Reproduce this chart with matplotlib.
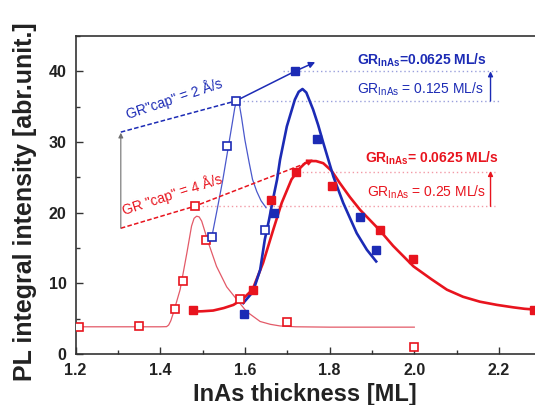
import matplotlib
matplotlib.use("Agg")
import matplotlib.pyplot as plt
from matplotlib.ticker import MultipleLocator

plt.rcParams['font.family'] = ['Liberation Sans', 'DejaVu Sans']
plt.rcParams['mathtext.default'] = 'regular'

# ---------------- data ----------------
# open red squares (GR cap = 4 A/s, GR InAs = 0.25 ML/s)
red_open_x = [1.209, 1.351, 1.435, 1.455, 1.481, 1.507, 1.588, 1.699, 1.999]
red_open_y = [3.87, 4.0, 6.3, 10.3, 20.9, 16.1, 7.8, 4.5, 1.04]
# open blue squares (GR cap = 2 A/s, GR InAs = 0.125 ML/s)
blue_open_x = [1.522, 1.557, 1.578, 1.647]
blue_open_y = [16.6, 29.5, 35.8, 17.6]
# filled blue squares (GR InAs = 0.0625 ML/s)
blue_fill_x = [1.599, 1.669, 1.718, 1.770, 1.872, 1.909]
blue_fill_y = [5.67, 19.96, 40.0, 30.4, 19.4, 14.65]
# filled red squares (GR InAs = 0.0625 ML/s)
red_fill_x = [1.478, 1.618, 1.661, 1.720, 1.806, 1.919, 1.998, 2.282]
red_fill_y = [6.24, 9.08, 21.8, 25.7, 23.8, 17.6, 13.4, 6.24]

# fitted curves
red_thin_x = [1.20, 1.30, 1.40, 1.415, 1.420, 1.425, 1.431, 1.447, 1.463, 1.474,
              1.480, 1.486, 1.492, 1.498, 1.514, 1.533, 1.557, 1.581, 1.604,
              1.636, 1.660, 1.683, 1.72, 1.80, 2.00]
red_thin_y = [3.85, 3.85, 3.85, 3.87, 4.1, 4.7, 5.8, 9.1, 14.3, 18.1,
              19.2, 19.5, 19.4, 18.8, 15.7, 12.4, 9.5, 7.7, 6.0,
              4.6, 4.2, 3.97, 3.85, 3.8, 3.8]
blue_thin_x = [1.522, 1.535, 1.548, 1.560, 1.570, 1.576, 1.581, 1.586, 1.592,
               1.600, 1.610, 1.618, 1.628, 1.638, 1.650]
blue_thin_y = [16.6, 20.6, 24.7, 29.0, 32.6, 34.8, 36.0, 35.6, 33.5,
               30.3, 27.1, 24.7, 23.0, 21.7, 20.7]
blue_thick_x = [1.596, 1.619, 1.636, 1.647, 1.657, 1.666, 1.676, 1.683, 1.699,
                1.718, 1.727, 1.736, 1.745, 1.761, 1.773, 1.785, 1.797, 1.809,
                1.832, 1.864, 1.888, 1.910]
blue_thick_y = [7.2, 8.8, 11.9, 16.2, 19.0, 21.8, 24.7, 27.5, 32.2,
                36.0, 37.1, 37.5, 37.0, 34.6, 32.4, 29.9, 27.5, 25.1,
                21.4, 17.1, 14.75, 13.1]
red_thick_x = [1.478, 1.500, 1.525, 1.550, 1.573, 1.595, 1.618, 1.643, 1.667,
               1.687, 1.710, 1.730, 1.742, 1.754, 1.768, 1.785, 1.805, 1.824,
               1.848, 1.872, 1.917, 1.950, 1.998, 2.040, 2.077, 2.115, 2.155,
               2.195, 2.234, 2.260, 2.282]
red_thick_y = [6.0, 6.05, 6.15, 6.5, 6.95, 7.8, 9.1, 12.9, 17.6,
               21.4, 24.7, 26.3, 27.0, 27.3, 27.3, 27.0, 25.9, 24.2,
               22.2, 20.4, 17.6, 15.3, 12.4, 10.6, 9.1, 8.1, 7.4,
               6.95, 6.6, 6.4, 6.3]

# guide lines
blue_guide_dash_x = [1.307, 1.578]
blue_guide_dash_y = [31.4, 35.8]
blue_guide_solid_x = [1.578, 1.718]
blue_guide_solid_y = [35.8, 40.0]
red_guide_x = [1.307, 1.481, 1.740]
red_guide_y = [17.8, 20.9, 26.9]
arrow_x = 2.18

labels = [r'GR$_{InAs}$=0.0625 ML/s', r'GR$_{InAs}$ = 0.125 ML/s',
          r'GR$_{InAs}$= 0.0625 ML/s', r'GR$_{InAs}$ = 0.25 ML/s']
cap_labels = ['GR"cap" = 2 Å/s', 'GR "cap" = 4 Å/s']
xticks = [1.2, 1.4, 1.6, 1.8, 2.0, 2.2]
yticks = [0, 10, 20, 30, 40]

BLUE = '#1c2bb5'
BLUE_T = '#4a58cc'
BLUE_D = '#9aa0dc'
RED = '#e8141e'
RED_T = '#e35a68'
RED_D = '#f29aa6'

fig = plt.figure(figsize=(5.35, 4.05), dpi=100)
ax = fig.add_axes([75.5 / 535, 51 / 405, 459.5 / 535, 318 / 405])
ax.set_xlim(1.2, 1.2 + 459.5 / 423.5)
ax.set_ylim(0, 45)

# dotted reference lines
ax.plot([1.69, arrow_x + 0.02], [40.0, 40.0], ls=(0, (1, 2)), color=BLUE_D, lw=1)
ax.plot([1.596, arrow_x + 0.02], [35.8, 35.8], ls=(0, (1, 2)), color=BLUE_D, lw=1)
ax.plot([1.725, arrow_x + 0.01], [25.7, 25.7], ls=(0, (1, 2)), color=RED_D, lw=1)
ax.plot([1.49, arrow_x + 0.01], [20.9, 20.9], ls=(0, (1, 2)), color=RED_D, lw=1)

# fitted curves
ax.plot(red_thin_x, red_thin_y, color=RED_T, lw=0.9, zorder=2)
ax.plot(blue_thin_x, blue_thin_y, color=BLUE_T, lw=0.9, zorder=2)
ax.plot(red_thick_x, red_thick_y, color=RED, lw=1.9, zorder=3)
ax.plot(blue_thick_x, blue_thick_y, color=BLUE, lw=1.9, zorder=3)

# guide lines
ax.plot(blue_guide_dash_x, blue_guide_dash_y, color=BLUE, lw=1.1, ls=(0, (3, 1.5)), zorder=2)
ax.plot(blue_guide_solid_x, blue_guide_solid_y, color=BLUE, lw=1.1, zorder=2)
ax.annotate('', xy=(1.766, 41.3), xytext=(1.718, 40.0),
            arrowprops=dict(arrowstyle='-|>', color=BLUE, lw=1.1,
                            mutation_scale=9, shrinkA=0, shrinkB=0))
ax.plot(red_guide_x, red_guide_y, color=RED, lw=1.1, ls=(0, (3, 1.5)), zorder=2)
ax.annotate('', xy=(1.762, 27.5), xytext=(1.74, 26.9),
            arrowprops=dict(arrowstyle='-|>', color=RED, lw=1.1,
                            mutation_scale=9, shrinkA=0, shrinkB=0))
ax.annotate('', xy=(1.307, 31.3), xytext=(1.307, 17.8),
            arrowprops=dict(arrowstyle='-|>', color='#707070', lw=0.8,
                            mutation_scale=7, shrinkA=0, shrinkB=0))
ax.annotate('', xy=(arrow_x, 40.0), xytext=(arrow_x, 35.8),
            arrowprops=dict(arrowstyle='-|>', color=BLUE, lw=1.0,
                            mutation_scale=7, shrinkA=0, shrinkB=0))
ax.annotate('', xy=(arrow_x, 25.9), xytext=(arrow_x, 20.9),
            arrowprops=dict(arrowstyle='-|>', color=RED, lw=1.0,
                            mutation_scale=7, shrinkA=0, shrinkB=0))

# markers
ax.plot(red_open_x, red_open_y, 's', ls='none', ms=5.6, mfc='white', mec=RED, mew=1.2, zorder=5)
ax.plot(blue_open_x, blue_open_y, 's', ls='none', ms=5.6, mfc='white', mec=BLUE, mew=1.2, zorder=5)
ax.plot(red_fill_x, red_fill_y, 's', ls='none', ms=6.2, color=RED, zorder=5)
ax.plot(blue_fill_x, blue_fill_y, 's', ls='none', ms=6.2, color=BLUE, zorder=5)

# texts
ax.text(1.865, 41.0, labels[0], color=BLUE, fontsize=10, fontweight='bold', va='baseline')
ax.text(1.864, 36.9, labels[1], color=BLUE, fontsize=10, va='baseline')
ax.text(1.884, 27.1, labels[2], color=RED, fontsize=10, fontweight='bold', va='baseline')
ax.text(1.888, 22.25, labels[3], color=RED, fontsize=10, va='baseline')
ax.text(1.433, 36.2, cap_labels[0], color=BLUE, fontsize=10, rotation=18.5,
        ha='center', va='center', rotation_mode='anchor')
ax.text(1.429, 22.6, cap_labels[1], color=RED, fontsize=10, rotation=18,
        ha='center', va='center', rotation_mode='anchor')

# axes styling
ax.set_xticks(xticks)
ax.set_yticks(yticks)
ax.xaxis.set_minor_locator(MultipleLocator(0.1))
ax.yaxis.set_minor_locator(MultipleLocator(5))
ax.tick_params(which='both', direction='in', color='#333333', width=1.0)
ax.tick_params(which='major', length=5, pad=6.5, labelsize=11.5)
ax.tick_params(which='minor', length=3)
for lab in ax.get_xticklabels() + ax.get_yticklabels():
    lab.set_fontweight('bold')
    lab.set_color('#222222')
for s in ['left', 'bottom', 'top']:
    ax.spines[s].set_color('#333333')
    ax.spines[s].set_linewidth(1.2)
ax.spines['right'].set_visible(False)

ax.set_xlabel('InAs thickness [ML]', fontsize=17, fontweight='bold', color='#222222')
ax.set_ylabel('PL integral intensity [abr.unit.]', fontsize=18, fontweight='bold', color='#222222')
ax.xaxis.set_label_coords(0.5, -0.091)
ax.yaxis.set_label_coords(-0.083, 0.478)

fig.savefig('out.png', dpi=100)
